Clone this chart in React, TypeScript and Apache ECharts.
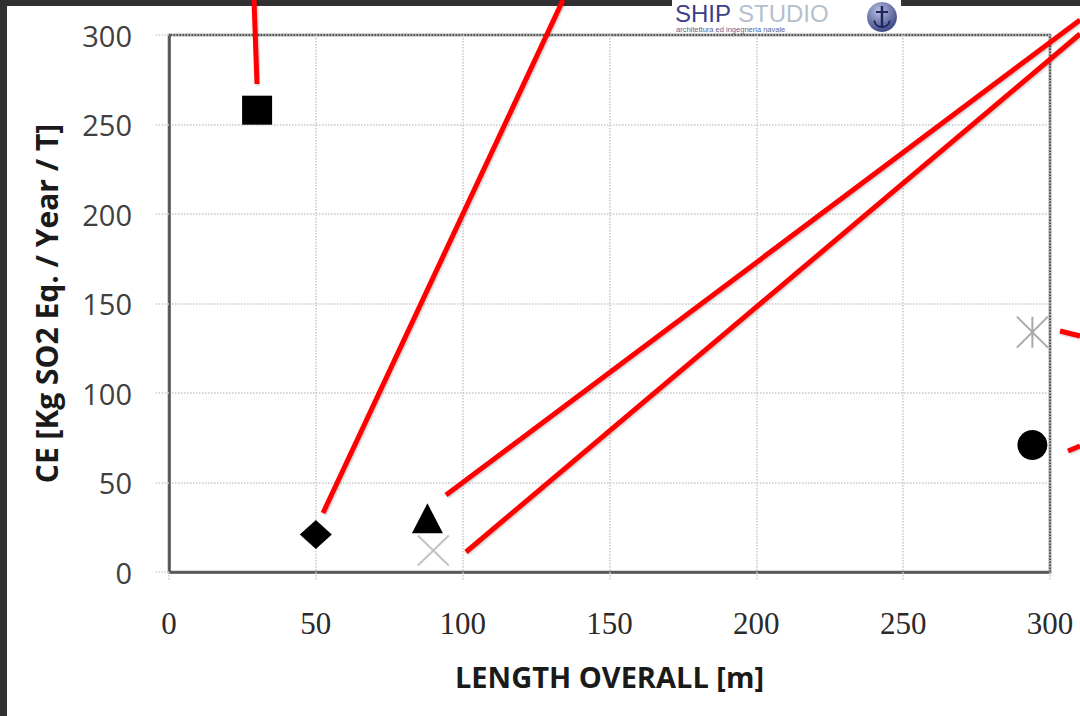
import React, { useEffect, useRef } from "react";
import * as echarts from "echarts";

// ---- data ----
const shipNames = ["Ship A", "Ship B", "Ship C", "Ship D", "Ship E", "Ship F"];
const lengthOverall = [30, 50, 88, 90, 294, 294];
const ceValues = [258, 21, 30, 12, 134, 71];
const xTicks = [0, 50, 100, 150, 200, 250, 300];
const yTicks = [0, 50, 100, 150, 200, 250, 300];
const xAxisTitle = "LENGTH OVERALL [m]";
const yAxisTitle = "CE [Kg SO2 Eq. / Year / T]";

// ---- marker styles (one per ship) ----
const markerStyles = [
  { symbol: "rect", size: [30, 29], color: "#000", border: "#000", bw: 0 },
  { symbol: "diamond", size: [32, 29], color: "#000", border: "#000", bw: 0 },
  { symbol: "triangle", size: [31, 30], color: "#000", border: "#000", bw: 0 },
  { symbol: "path://M0,0L10,10M10,0L0,10", size: [31, 30], color: "none", border: "#c4c4c4", bw: 2 },
  { symbol: "path://M0,0L10,10M10,0L0,10M5,0L5,10", size: [31, 31], color: "none", border: "#a8a8a8", bw: 2 },
  { symbol: "circle", size: 30, color: "#000", border: "#000", bw: 0 },
];

export default function App() {
  const ref = useRef<HTMLDivElement>(null);

  useEffect(() => {
    if (!ref.current) return;
    const chart = echarts.init(ref.current, null, { renderer: "svg" });

    const series = shipNames.map((name, i) => ({
      name,
      type: "scatter",
      symbol: markerStyles[i].symbol,
      symbolSize: markerStyles[i].size,
      itemStyle: {
        color: markerStyles[i].color,
        borderColor: markerStyles[i].border,
        borderWidth: markerStyles[i].bw,
        opacity: 1,
      },
      data: [[lengthOverall[i], ceValues[i]]],
      z: 5,
    }));

    const red = { stroke: "#ff0000", lineWidth: 5, shadowBlur: 2, shadowColor: "rgba(0,0,0,0.25)", shadowOffsetX: 1, shadowOffsetY: 1 };
    const leader = (x1: number, y1: number, x2: number, y2: number) => ({
      type: "line",
      shape: { x1, y1, x2, y2 },
      style: red,
      z: 50,
    });

    chart.setOption({
      animation: false,
      backgroundColor: "#ffffff",
      grid: {
        left: 169,
        right: 30,
        top: 35,
        bottom: 144,
        show: true,
        borderColor: "#555555",
        borderWidth: 2.5,
        backgroundColor: "#ffffff",
      },
      xAxis: {
        type: "value",
        min: xTicks[0],
        max: xTicks[xTicks.length - 1],
        interval: 50,
        name: xAxisTitle,
        nameLocation: "middle",
        nameGap: 90,
        nameTextStyle: { fontFamily: "Open Sans", fontWeight: "bold", fontSize: 29, color: "#1a1a1a" },
        axisLine: { show: true, lineStyle: { color: "#555555", width: 2.5 } },
        axisTick: { show: true, length: 8, lineStyle: { color: "#cccccc", type: "dotted", width: 1.5 } },
        axisLabel: {
          margin: 36,
          fontFamily: "Liberation Serif",
          fontSize: 31,
          color: "#2a2a2a",
        },
        splitLine: { show: true, lineStyle: { color: "#c8c8c8", type: "dotted", width: 1.5 } },
      },
      yAxis: {
        type: "value",
        min: yTicks[0],
        max: yTicks[yTicks.length - 1],
        interval: 50,
        name: yAxisTitle,
        nameLocation: "middle",
        nameRotate: 90,
        nameGap: 108,
        nameTextStyle: { fontFamily: "Open Sans", fontWeight: "bold", fontSize: 30, color: "#1a1a1a" },
        axisLine: { show: true, lineStyle: { color: "#555555", width: 2.5 } },
        axisTick: { show: true, length: 14, lineStyle: { color: "#cccccc", type: "dotted", width: 1.5 } },
        axisLabel: {
          margin: 37,
          fontFamily: "Open Sans",
          fontSize: 29,
          color: "#404040",
        },
        splitLine: { show: true, lineStyle: { color: "#c8c8c8", type: "dotted", width: 1.5 } },
      },
      series,
      graphic: [
        // dark outer frame (left and top)
        { type: "rect", shape: { x: 0, y: 0, width: 7, height: 716 }, style: { fill: "#313134" }, z: 40 },
        { type: "rect", shape: { x: 0, y: 0, width: 1080, height: 6 }, style: { fill: "#313134" }, z: 40 },
        // logo block
        { type: "rect", shape: { x: 672, y: 0, width: 229, height: 33 }, style: { fill: "#ffffff" }, z: 41 },
        {
          type: "text",
          x: 675,
          y: 2,
          style: { text: "SHIP", fontFamily: "Liberation Sans", fontSize: 24, lineHeight: 23, fill: "#3b3f8c", textVerticalAlign: "top" },
          z: 42,
        },
        {
          type: "text",
          x: 738,
          y: 2,
          style: { text: "STUDIO", fontFamily: "Liberation Sans", fontSize: 24, lineHeight: 23, fill: "#b5bfcc", textVerticalAlign: "top" },
          z: 42,
        },
        {
          type: "text",
          x: 676,
          y: 26,
          style: { text: "architettura ed ingegneria navale", fontFamily: "Liberation Sans", fontSize: 7.5, lineHeight: 7, fill: "#5d6394", textVerticalAlign: "top" },
          z: 42,
        },
        {
          type: "circle",
          shape: { cx: 882, cy: 17, r: 15 },
          style: {
            fill: new echarts.graphic.RadialGradient(0.4, 0.3, 0.8, [
              { offset: 0, color: "#b8c0e0" },
              { offset: 1, color: "#2e3a7c" },
            ]),
          },
          z: 42,
        },
        { type: "line", shape: { x1: 882, y1: 6, x2: 882, y2: 27 }, style: { stroke: "#1f2660", lineWidth: 2.5 }, z: 43 },
        { type: "line", shape: { x1: 876, y1: 12, x2: 888, y2: 12 }, style: { stroke: "#1f2660", lineWidth: 2 }, z: 43 },
        { type: "arc", shape: { cx: 882, cy: 19, r: 8, startAngle: 0.2, endAngle: Math.PI - 0.2 }, style: { stroke: "#1f2660", lineWidth: 2, fill: "none" }, z: 43 },
        // red leader lines
        leader(257, 84, 254, 0),
        leader(323, 513, 563, 0),
        leader(446, 495, 1080, 20),
        leader(466, 552, 1080, 34),
        leader(1060, 331, 1080, 336),
        leader(1068, 451, 1080, 446),
      ],
    });

    return () => chart.dispose();
  }, []);

  return (
    <div
      ref={ref}
      style={{ position: "fixed", left: 0, top: 0, width: 1080, height: 716, background: "#ffffff" }}
    />
  );
}
